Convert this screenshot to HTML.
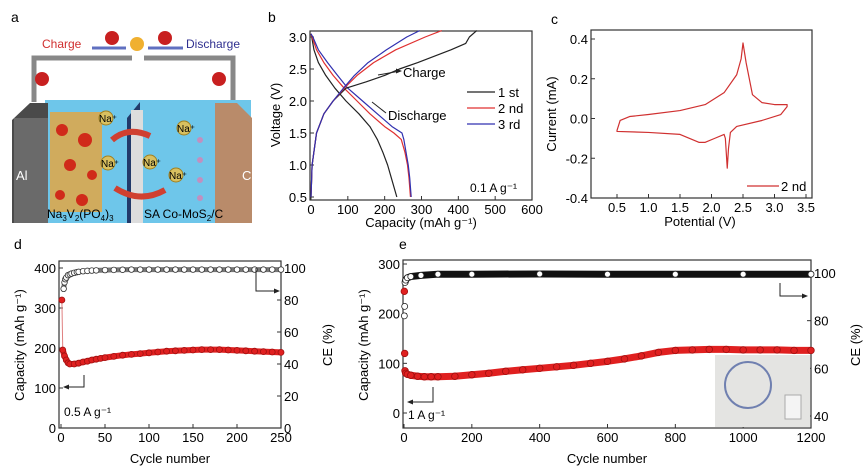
<!DOCTYPE html>
<html><head><meta charset="utf-8"><style>
html,body{margin:0;padding:0;background:#fff;}
svg{display:block;font-family:"Liberation Sans",Arial,sans-serif;}
</style></head><body>
<svg id="fig" width="867" height="472" viewBox="0 0 867 472" xmlns="http://www.w3.org/2000/svg">
<g>
 <text x="11" y="22" font-size="14">a</text>
 <path d="M34,102 V58 H132 M144,58 H233 V102" fill="none" stroke="#888" stroke-width="5"/>
 <rect x="45" y="100" width="206" height="123" fill="#6ec6ea"/>
 <polygon points="12,120 30,103 48,103 48,223 12,223" fill="#4a4a4a"/>
 <rect x="14" y="118" width="34" height="105" fill="#6a6a6a"/>
 <text x="16" y="180" font-size="13" fill="#fff">Al</text>
 <polygon points="215,103 237,103 252,118 252,223 215,223" fill="#b98b6a"/>
 <text x="242" y="180" font-size="13" fill="#fff">Cu</text>
 <rect x="50" y="112" width="52" height="100" fill="#e8a43a" opacity="0.8"/>
 <g fill="#d02a1a">
  <circle cx="62" cy="130" r="6"/><circle cx="85" cy="140" r="7"/><circle cx="70" cy="165" r="6"/><circle cx="92" cy="175" r="5"/><circle cx="60" cy="195" r="5"/><circle cx="82" cy="200" r="6"/>
 </g>
 <polygon points="127,118 140,102 140,223 127,223" fill="#223a6a"/>
 <rect x="131" y="110" width="12" height="113" fill="#ddd"/>
 <path d="M112,140 Q128,126 150,136" stroke="#d04030" stroke-width="6" fill="none"/>
 <path d="M165,190 Q140,204 115,188" stroke="#d04030" stroke-width="6" fill="none"/>
 <g fill="#d8c060" stroke="#a08020">
  <circle cx="106" cy="118" r="7"/><circle cx="184" cy="128" r="7"/><circle cx="108" cy="163" r="7"/><circle cx="150" cy="162" r="7"/><circle cx="176" cy="175" r="7"/>
 </g>
 <g font-size="10">
  <text x="99" y="122">Na⁺</text><text x="177" y="132">Na⁺</text><text x="101" y="167">Na⁺</text><text x="143" y="166">Na⁺</text><text x="169" y="179">Na⁺</text>
 </g>
 <g fill="#c090c0">
  <circle cx="200" cy="140" r="3"/><circle cx="200" cy="160" r="3"/><circle cx="200" cy="180" r="3"/><circle cx="200" cy="198" r="3"/>
 </g>
 <text x="47" y="218" font-size="12">Na<tspan font-size="8" dy="3">3</tspan><tspan dy="-3">V</tspan><tspan font-size="8" dy="3">2</tspan><tspan dy="-3">(PO</tspan><tspan font-size="8" dy="3">4</tspan><tspan dy="-3">)</tspan><tspan font-size="8" dy="3">3</tspan></text>
 <text x="144" y="218" font-size="12">SA Co-MoS<tspan font-size="8" dy="3">2</tspan><tspan dy="-3">/C</tspan></text>
 <text x="42" y="48" font-size="12" fill="#d03030">Charge</text>
 <text x="186" y="48" font-size="12" fill="#303090">Discharge</text>
 <line x1="92" y1="48" x2="126" y2="48" stroke="#6070c0" stroke-width="3"/>
 <line x1="148" y1="48" x2="183" y2="48" stroke="#6070c0" stroke-width="3"/>
 <circle cx="137" cy="44" r="7" fill="#f0b030"/>
 <g fill="#c82020">
  <circle cx="112" cy="38" r="7"/><circle cx="165" cy="38" r="7"/><circle cx="42" cy="79" r="7"/><circle cx="219" cy="79" r="7"/>
 </g>
</g>
<g id="charts"></g>
</svg>
<script>
// ---- Panel b data ----
const bDisV = [3.05,3.0,2.8,2.6,2.4,2.2,2.0,1.8,1.6,1.5,1.4,1.2,1.0,0.8,0.5];
const bDis1 = [0,2,8,20,40,65,95,130,160,170,180,195,208,218,233];
const bDis2 = [0,3,15,35,60,90,125,160,200,225,245,255,262,266,270];
const bDis3 = [0,5,20,45,72,100,140,180,220,247,252,258,264,268,272];
const bChV1 = [0.5,1.0,1.5,1.8,2.0,2.2,2.3,2.4,2.5,2.6,2.8,2.9,3.0,3.1];
const bCh1 = [0,3,15,35,60,95,150,200,240,290,380,420,430,450];
const bChV = [0.5,1.0,1.5,1.8,2.0,2.2,2.4,2.6,2.8,3.0,3.1];
const bCh2 = [0,3,15,35,60,90,125,170,230,310,355];
const bCh3 = [0,3,15,35,60,88,118,155,205,260,295];
const bXTicks = [0,100,200,300,400,500,600];
const bYTicks = [0.5,1.0,1.5,2.0,2.5,3.0];
// ---- Panel c data ----
const cPot = [0.5,0.55,0.7,1.0,1.5,1.9,2.2,2.4,2.47,2.5,2.55,2.65,2.8,3.0,3.2,3.2,3.1,2.8,2.4,2.3,2.27,2.25,2.22,2.2,2.05,1.9,1.8,1.5,1.0,0.5,0.5];
const cCur = [-0.06,-0.01,0.01,0.02,0.04,0.07,0.13,0.22,0.3,0.38,0.28,0.12,0.08,0.07,0.07,0.06,0.02,-0.01,-0.04,-0.07,-0.15,-0.25,-0.1,-0.08,-0.1,-0.12,-0.12,-0.08,-0.07,-0.065,-0.06];
const cXTicks = [0.5,1.0,1.5,2.0,2.5,3.0,3.5];
const cYTicks = [-0.4,-0.2,0.0,0.2,0.4];
// ---- Panel d data ----
const dCycles = [1,2,4,6,8,10,15,20,25,30,35,40,45,50,60,70,80,90,100,110,120,130,140,150,160,170,180,190,200,210,220,230,240,250];
const dCap = [320,195,180,170,163,160,160,162,165,167,170,172,174,176,179,182,184,186,188,190,192,193,194,195,196,196,196,195,194,193,192,191,190,189];
const dCECycles = [3,4,5,6,8,10,12,15,18,20,25,30,35,40,50,60,70,80,90,100,110,120,130,140,150,160,170,180,190,200,210,220,230,240,250];
const dCE = [87,91,93,94,95.5,96,96.5,97,97.4,97.6,98,98.2,98.4,98.5,98.7,98.8,98.9,99,99,99,99,99,99,99,99,99,99,99,99,99,99,99,99,99,99];
const dXTicks = [0,50,100,150,200,250];
const dYTicks = [0,100,200,300,400];
const dRTicks = [0,20,40,60,80,100];
// ---- Panel e data ----
const eCycles = [1,2,3,5,10,20,40,60,80,100,150,200,250,300,350,400,450,500,550,600,650,700,750,800,850,900,950,1000,1050,1100,1150,1200];
const eCap = [245,120,85,80,78,76,74,73,73,73,74,77,80,84,87,90,93,96,100,104,109,115,122,126,127,128,128,127,127,127,126,126];
const eCECycles = [1,2,3,5,10,20,50,100,200,400,600,800,1000,1200];
const eCE = [82,86,96,97,98,98.5,99,99.5,99.5,99.6,99.5,99.5,99.5,99.5];
const eXTicks = [0,200,400,600,800,1000,1200];
const eYTicks = [0,100,200,300];
const eRTicks = [40,60,80,100];

const NS = "http://www.w3.org/2000/svg";
const root = document.getElementById('charts');
function mk(tag, attrs, parent){const e=document.createElementNS(NS,tag);for(const k in attrs)e.setAttribute(k,attrs[k]);(parent||root).appendChild(e);return e;}
function lin(d0,d1,p0,p1){return v=>p0+(v-d0)*(p1-p0)/(d1-d0);}
function txt(x,y,s,size,anchor,rot,name,parent){
  const t=mk('text',{x:x,y:y,'font-size':size,'text-anchor':anchor||'start'},parent);
  if(rot)t.setAttribute('transform','rotate(-90 '+x+' '+y+')');
  t.textContent=s;
  
  
  return t;
}
function frame(x0,y0,x1,y1,name){
  const r=mk('rect',{x:x0,y:y0,width:x1-x0,height:y1-y0,fill:'none',stroke:'#333','stroke-width':1.2});
  
  
}
function xTicks(ticks,sx,yb,fmt,name){
  const g=mk('g',{});
  
  
  ticks.forEach(v=>{mk('line',{x1:sx(v),x2:sx(v),y1:yb,y2:yb-4,stroke:'#333'},g);txt(sx(v),yb+14,fmt(v),13,'middle',false,'x-tick-label',g);});
}
function yTicks(ticks,sy,xl,fmt,name,right){
  const g=mk('g',{});
  
  
  ticks.forEach(v=>{mk('line',{x1:xl,x2:right?xl-4:xl+4,y1:sy(v),y2:sy(v),stroke:'#333'},g);txt(right?xl+3:xl-3,sy(v)+5,fmt(v),13,right?'start':'end',false,'y-tick-label',g);});
}
function poly(xs,ys,sx,sy,color,w,name){
  const p=mk('polyline',{points:xs.map((x,i)=>sx(x)+','+sy(ys[i])).join(' '),fill:'none',stroke:color,'stroke-width':w,'stroke-linejoin':'round'});
  
  
}
function marks(xs,ys,sx,sy,fill,stroke,r,name){
  const g=mk('g',{});
  
  
  xs.forEach((x,i)=>mk('circle',{cx:sx(x),cy:sy(ys[i]),r:r,fill:fill,stroke:stroke,'stroke-width':0.8},g));
}
function arrowPath(d,name){
  const p=mk('path',{d:d,fill:'none',stroke:'#222','stroke-width':1});
  
  
}
function head(x,y,dir,name){
  const pts = dir==='r'?[[x,y],[x-6,y-2.5],[x-6,y+2.5]]:[[x,y],[x+6,y-2.5],[x+6,y+2.5]];
  const p=mk('polygon',{points:pts.map(p=>p.join(',')).join(' '),fill:'#222'});
  
  
}
const f1=v=>v.toFixed(1), f0=v=>String(v);

// ===== Panel b =====
{
 const sx=lin(0,600,311,532), sy=lin(0.5,3.0,197,37);
 txt(268,22,'b',14,'start',false,'panel-label-b');
 frame(310,31,532,200,'plot-frame-b');
 xTicks(bXTicks,sx,200,f0,'x-axis-b');
 yTicks(bYTicks,sy,310,f1,'y-axis-b');
 txt(421,227,'Capacity (mAh g⁻¹)',13,'middle',false,'x-axis-title-b');
 txt(280,115,'Voltage (V)',13,'middle',true,'y-axis-title-b');
 poly(bDis1,bDisV,sx,sy,'#222',1.2,'discharge-1st');
 poly(bDis2,bDisV,sx,sy,'#e03030',1.2,'discharge-2nd');
 poly(bDis3,bDisV,sx,sy,'#3030b0',1.2,'discharge-3rd');
 poly(bCh1,bChV1,sx,sy,'#222',1.2,'charge-1st');
 poly(bCh2,bChV,sx,sy,'#e03030',1.2,'charge-2nd');
 poly(bCh3,bChV,sx,sy,'#3030b0',1.2,'charge-3rd');
 arrowPath('M378,75 L400,71','charge-arrow-b'); head(402,71,'r','charge-arrowhead');
 txt(403,77,'Charge',13,'start',false,'charge-annotation');
 arrowPath('M372,102 L386,113','discharge-arrow-b');
 txt(388,120,'Discharge',13,'start',false,'discharge-annotation');
 [['1 st','#222',92],['2 nd','#e03030',108],['3 rd','#3030b0',124]].forEach(l=>{
   const ln=mk('line',{x1:467,x2:495,y1:l[2],y2:l[2],stroke:l[1],'stroke-width':1.2});
   
   
   txt(498,l[2]+5,l[0],13,'start',false,'legend-entry');
 });
 txt(470,192,'0.1 A g⁻¹',12,'start',false,'rate-label-b');
}
// ===== Panel c =====
{
 const sx=lin(0.5,3.5,617,806), sy=lin(-0.4,0.4,198,39);
 txt(551,24,'c',14,'start',false,'panel-label-c');
 frame(591,30,812,198,'plot-frame-c');
 xTicks(cXTicks,sx,198,f1,'x-axis-c');
 yTicks(cYTicks,sy,591,f1,'y-axis-c');
 txt(700,226,'Potential (V)',13,'middle',false,'x-axis-title-c');
 txt(556,114,'Current (mA)',13,'middle',true,'y-axis-title-c');
 poly(cPot,cCur,sx,sy,'#d03030',1.2,'cv-curve-2nd');
 const ln=mk('line',{x1:747,x2:779,y1:186,y2:186,stroke:'#d03030','stroke-width':1.2});
 
 
 txt(781,191,'2 nd',13,'start',false,'legend-entry-c');
}
// ===== Panel d =====
{
 const sx=lin(0,250,61,281), sy=lin(0,400,428,268), sr=lin(0,100,428,268);
 txt(14,249,'d',14,'start',false,'panel-label-d');
 frame(59,261,281,428,'plot-frame-d');
 xTicks(dXTicks,sx,428,f0,'x-axis-d');
 yTicks(dYTicks,sy,59,f0,'y-axis-left-d');
 yTicks(dRTicks,sr,281,f0,'y-axis-right-d',true);
 txt(170,463,'Cycle number',13,'middle',false,'x-axis-title-d');
 txt(24,345,'Capacity (mAh g⁻¹)',13,'middle',true,'y-axis-title-left-d');
 txt(332,345,'CE (%)',13,'middle',true,'y-axis-title-right-d');
 poly(dCECycles,dCE,sx,sr,'#777',5,'ce-band-d');
 marks(dCECycles,dCE,sx,sr,'#fff','#333',2.8,'ce-markers-d');
 poly(dCycles.slice(0,2),dCap.slice(0,2),sx,sy,'#e08080',1,'capacity-drop-line-d');
 poly(dCycles.slice(1),dCap.slice(1),sx,sy,'#e02020',6,'capacity-band-d');
 marks(dCycles,dCap,sx,sy,'#e02020','#a01010',3,'capacity-markers-d');
 arrowPath('M84,375 V387 H64','capacity-axis-arrow-d'); head(63,387,'l','arrowhead-left-d');
 arrowPath('M256,268 V291 H278','ce-axis-arrow-d'); head(280,291,'r','arrowhead-right-d');
 txt(64,416,'0.5 A g⁻¹',12,'start',false,'rate-label-d');
}
// ===== Panel e =====
{
 const sx=lin(0,1200,404,811), sy=lin(0,300,413,264), sr=lin(40,100,416,273);
 txt(399,249,'e',14,'start',false,'panel-label-e');
 frame(403,260,811,428,'plot-frame-e');
 xTicks(eXTicks,sx,428,f0,'x-axis-e');
 yTicks(eYTicks,sy,403,f0,'y-axis-left-e');
 yTicks(eRTicks,sr,811,f0,'y-axis-right-e',true);
 txt(607,463,'Cycle number',13,'middle',false,'x-axis-title-e');
 txt(368,345,'Capacity (mAh g⁻¹)',13,'middle',true,'y-axis-title-left-e');
 txt(860,345,'CE (%)',13,'middle',true,'y-axis-title-right-e');
 const ins=mk('rect',{x:715,y:355,width:95,height:72,fill:'#e4e4e2'});
 
 
 const st=mk('circle',{cx:748,cy:385,r:23,fill:'none',stroke:'#7080b0','stroke-width':2});
 
 
 const dv=mk('rect',{x:785,y:395,width:16,height:24,fill:'#f4f4f4',stroke:'#aaa'});
 
 
 poly(eCECycles.slice(2),eCE.slice(2),sx,sr,'#111',7,'ce-band-e');
 marks(eCECycles,eCE,sx,sr,'#fff','#222',3,'ce-markers-e');
 poly(eCycles.slice(2),eCap.slice(2),sx,sy,'#e02020',7,'capacity-band-e');
 marks(eCycles,eCap,sx,sy,'#e02020','#a01010',3.3,'capacity-markers-e');
 arrowPath('M433,387 V402 H409','capacity-axis-arrow-e'); head(407,402,'l','arrowhead-left-e');
 arrowPath('M780,283 V296 H806','ce-axis-arrow-e'); head(808,296,'r','arrowhead-right-e');
 txt(408,419,'1 A g⁻¹',12,'start',false,'rate-label-e');
}
</script>
</body></html>
